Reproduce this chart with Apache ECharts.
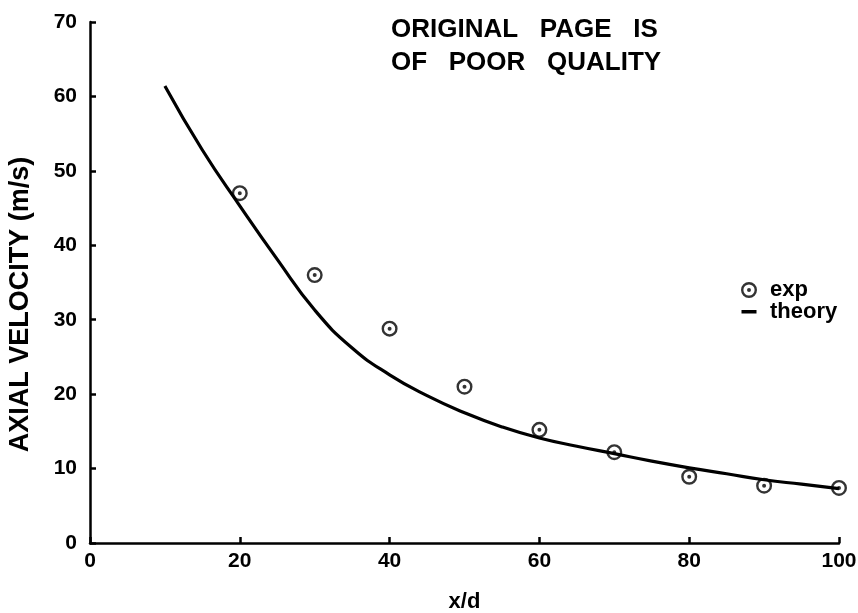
<!DOCTYPE html>
<html>
<head>
<meta charset="utf-8">
<script src="https://cdn.jsdelivr.net/npm/echarts@6/dist/echarts.min.js"></script>
<style>
html,body{margin:0;padding:0;background:#fff;}
#chart{width:858px;height:613px;}
</style>
</head>
<body>
<div id="chart"></div>
<script>
// ---- data ----
const expX = [20, 30, 40, 50, 60, 70, 80, 90, 100];
const expY = [47.0, 36.0, 28.8, 21.0, 15.2, 12.2, 8.9, 7.7, 7.4];
const theoryX = [10, 15, 20, 25, 30, 35, 40, 45, 50, 55, 60, 65, 70, 75, 80, 85, 90, 95, 100];
const theoryY = [61.4, 52.8, 45.3, 38.1, 31.3, 26.2, 22.6, 19.8, 17.5, 15.6, 14.1, 13.0, 12.0, 11.0, 10.1, 9.3, 8.5, 7.9, 7.3];
const seriesNames = ['exp', 'theory'];
const xName = 'x/d';
const yName = 'AXIAL VELOCITY (m/s)';
const noteText = 'ORIGINAL   PAGE   IS\nOF   POOR   QUALITY';

const FONT = '"Liberation Sans", Arial, sans-serif';
const ring = 'path://M10,0 A10,10 0 1,1 10,20 A10,10 0 1,1 10,0 Z M10,3 A7,7 0 1,0 10,17 A7,7 0 1,0 10,3 Z M10,7.5 A2.5,2.5 0 1,1 10,12.5 A2.5,2.5 0 1,1 10,7.5 Z';
const dash = 'path://M0,0 L0,0 Z M24,15 L24,15 Z M4.5,5.5 L19.5,5.5 L19.5,9 L4.5,9 Z';

const chart = echarts.init(document.getElementById('chart'), null, {renderer: 'canvas'});
const axisCommon = {
  axisLine: {lineStyle: {color: '#000', width: 2.5}},
  axisTick: {inside: true, length: 6, lineStyle: {color: '#000', width: 2.5}},
  splitLine: {show: false},
  axisLabel: {color: '#000', fontWeight: 'bold', fontSize: 21, fontFamily: FONT},
  nameTextStyle: {color: '#000', fontWeight: 'bold', fontFamily: FONT}
};
chart.setOption({
  animation: false,
  backgroundColor: '#fff',
  title: {
    text: noteText,
    left: 386, top: 8,
    textStyle: {color: '#000', fontWeight: 'bold', fontSize: 26, lineHeight: 33, fontFamily: FONT}
  },
  legend: {
    orient: 'vertical',
    left: 732, top: 274,
    itemWidth: 24, itemHeight: 16, itemGap: 0,
    textStyle: {color: '#000', fontWeight: 'bold', fontSize: 22, fontFamily: FONT, padding: [0, 0, 0, 4]},
    data: [
      {name: seriesNames[0], icon: ring, itemStyle: {color: '#000'}},
      {name: seriesNames[1], icon: dash, itemStyle: {color: '#000'}}
    ]
  },
  grid: {left: 90, right: 19, top: 22, bottom: 70, containLabel: false, outerBoundsMode: 'none'},
  xAxis: Object.assign({}, axisCommon, {
    type: 'value', min: 0, max: 100, interval: 20,
    name: xName, nameLocation: 'middle', nameGap: 48,
    axisLabel: Object.assign({}, axisCommon.axisLabel, {margin: 8}),
    nameTextStyle: Object.assign({}, axisCommon.nameTextStyle, {fontSize: 22})
  }),
  yAxis: Object.assign({}, axisCommon, {
    type: 'value', min: 0, max: 70, interval: 10,
    name: yName, nameLocation: 'middle', nameGap: 56, nameRotate: 90,
    axisLabel: Object.assign({}, axisCommon.axisLabel, {margin: 13}),
    nameTextStyle: Object.assign({}, axisCommon.nameTextStyle, {fontSize: 27, padding: [0, 44, 0, 0]})
  }),
  series: [
    {
      name: seriesNames[0], type: 'scatter',
      data: expX.map((x, i) => [x, expY[i]]),
      symbol: ring, symbolSize: 16,
      itemStyle: {color: '#000'}, z: 3
    },
    {
      name: seriesNames[1], type: 'line', smooth: 0.5,
      data: theoryX.map((x, i) => [x, theoryY[i]]),
      showSymbol: false, symbol: 'none',
      lineStyle: {color: '#000', width: 3.2},
      itemStyle: {color: '#000'}, z: 2
    }
  ]
});
</script>
</body>
</html>
